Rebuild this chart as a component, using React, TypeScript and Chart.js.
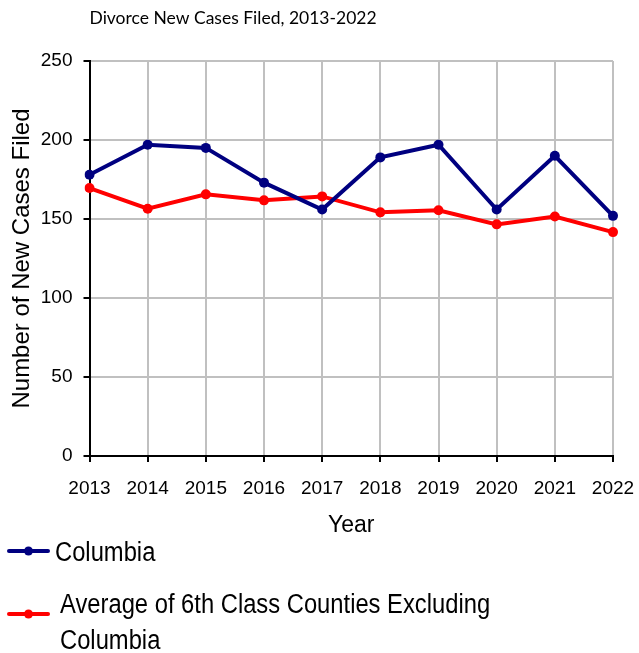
import React, { useEffect, useRef } from 'react';
import { Chart, registerables } from 'chart.js';

Chart.register(...registerables);

if (typeof document !== 'undefined') {
  document.body.style.margin = '0';
  document.body.style.overflow = 'hidden';
}

const years = ['2013', '2014', '2015', '2016', '2017', '2018', '2019', '2020', '2021', '2022'];
const columbiaValues = [178, 197, 195, 173, 156, 189, 197, 156, 190, 152];
const averageValues = [169.6, 156.5, 165.6, 161.8, 164.3, 154.2, 155.5, 146.6, 151.6, 141.7];
const seriesNames = ['Columbia', 'Average of 6th Class Counties Excluding Columbia'];
const seriesColors = ['#000080', '#FF0000'];
const yMin = 0;
const yMax = 250;
const yStep = 50;
const chartTitle = 'Divorce New Cases Filed, 2013-2022';
const xAxisTitle = 'Year';
const yAxisTitle = 'Number of New Cases Filed';

const AXIS_FONT = '"Liberation Sans", Arial, sans-serif';

const bottomLegend = {
  id: 'bottomLegend',
  afterDraw(chart: any) {
    const ctx: CanvasRenderingContext2D = chart.ctx;
    const slots = [
      { lineY: 551, textX: 55, baseline: 560.5 },
      { lineY: 614, textX: 60, baseline: 612.5 },
    ];
    const fontSize = 27;
    const squeeze = 0.88;
    const maxTextWidth = 500;
    const lineGap = 36;
    ctx.save();
    chart.data.datasets.forEach((ds: any, i: number) => {
      const s = slots[i];
      if (!s) return;
      ctx.strokeStyle = ds.borderColor;
      ctx.lineWidth = 4;
      ctx.lineCap = 'round';
      ctx.beginPath();
      ctx.moveTo(9, s.lineY);
      ctx.lineTo(48, s.lineY);
      ctx.stroke();
      ctx.fillStyle = ds.borderColor;
      ctx.beginPath();
      ctx.arc(28.5, s.lineY, 4.5, 0, Math.PI * 2);
      ctx.fill();

      ctx.font = `${fontSize}px ${AXIS_FONT}`;
      ctx.fillStyle = '#000000';
      ctx.textBaseline = 'alphabetic';
      ctx.textAlign = 'left';
      const words = String(ds.label).split(' ');
      const lines: string[] = [];
      let cur = '';
      words.forEach((w) => {
        const test = cur ? cur + ' ' + w : w;
        if (ctx.measureText(test).width * squeeze > maxTextWidth && cur) {
          lines.push(cur);
          cur = w;
        } else {
          cur = test;
        }
      });
      if (cur) lines.push(cur);
      lines.forEach((ln, j) => {
        ctx.save();
        ctx.translate(s.textX, s.baseline + j * lineGap);
        ctx.scale(squeeze, 1);
        ctx.fillText(ln, 0, 0);
        ctx.restore();
      });
    });
    ctx.restore();
  },
};

export default function App() {
  const canvasRef = useRef<HTMLCanvasElement | null>(null);

  useEffect(() => {
    const canvas = canvasRef.current;
    if (!canvas) return;
    const chart = new Chart(canvas, {
      type: 'line',
      data: {
        labels: years,
        datasets: [
          {
            label: seriesNames[0],
            data: columbiaValues,
            borderColor: seriesColors[0],
            backgroundColor: seriesColors[0],
            pointBackgroundColor: seriesColors[0],
            pointBorderColor: seriesColors[0],
            borderWidth: 4,
            pointRadius: 5,
            pointBorderWidth: 0,
            tension: 0,
          },
          {
            label: seriesNames[1],
            data: averageValues,
            borderColor: seriesColors[1],
            backgroundColor: seriesColors[1],
            pointBackgroundColor: seriesColors[1],
            pointBorderColor: seriesColors[1],
            borderWidth: 4,
            pointRadius: 5,
            pointBorderWidth: 0,
            tension: 0,
          },
        ],
      },
      options: {
        animation: false,
        responsive: true,
        maintainAspectRatio: false,
        layout: { padding: { top: 0, left: 0, right: 26, bottom: 110 } },
        plugins: {
          legend: { display: false },
          tooltip: { enabled: false },
          title: {
            display: true,
            text: chartTitle,
            align: 'start',
            fullSize: false,
            color: '#000000',
            font: { family: 'Lato, "Open Sans", sans-serif', size: 17.5, weight: 'normal' },
            padding: { top: 8, bottom: 32 },
          },
        },
        scales: {
          x: {
            type: 'category',
            offset: false,
            afterFit: (scale: any) => {
              scale.height = 87;
              scale.paddingLeft = 0;
              scale.paddingRight = 0;
            },
            grid: {
              display: true,
              color: '#C0C0C0',
              lineWidth: 2,
              drawTicks: true,
              tickLength: 6,
              tickColor: '#000000',
              tickWidth: 2,
            },
            border: { display: true, color: '#000000', width: 2 },
            ticks: {
              color: '#000000',
              font: { family: AXIS_FONT, size: 19 },
              padding: 15,
              maxRotation: 0,
              autoSkip: false,
            },
            title: {
              display: true,
              text: xAxisTitle,
              color: '#000000',
              font: { family: AXIS_FONT, size: 23 },
              padding: { top: 0, bottom: 4 },
            },
          },
          y: {
            min: yMin,
            max: yMax,
            afterFit: (scale: any) => {
              scale.width = 89.5;
            },
            grid: {
              display: true,
              color: '#C0C0C0',
              lineWidth: 2,
              drawTicks: true,
              tickLength: 6,
              tickColor: '#000000',
              tickWidth: 2,
            },
            border: { display: true, color: '#000000', width: 2 },
            ticks: {
              stepSize: yStep,
              color: '#000000',
              font: { family: AXIS_FONT, size: 19 },
              padding: 11,
            },
            title: {
              display: true,
              text: yAxisTitle,
              color: '#000000',
              font: { family: AXIS_FONT, size: 24 },
              padding: { top: 8, bottom: 0 },
            },
          },
        },
      },
      plugins: [bottomLegend],
    });
    return () => {
      chart.destroy();
    };
  }, []);

  return (
    <div style={{ position: 'relative', width: '639px', height: '653px' }}>
      <canvas ref={canvasRef} />
    </div>
  );
}
